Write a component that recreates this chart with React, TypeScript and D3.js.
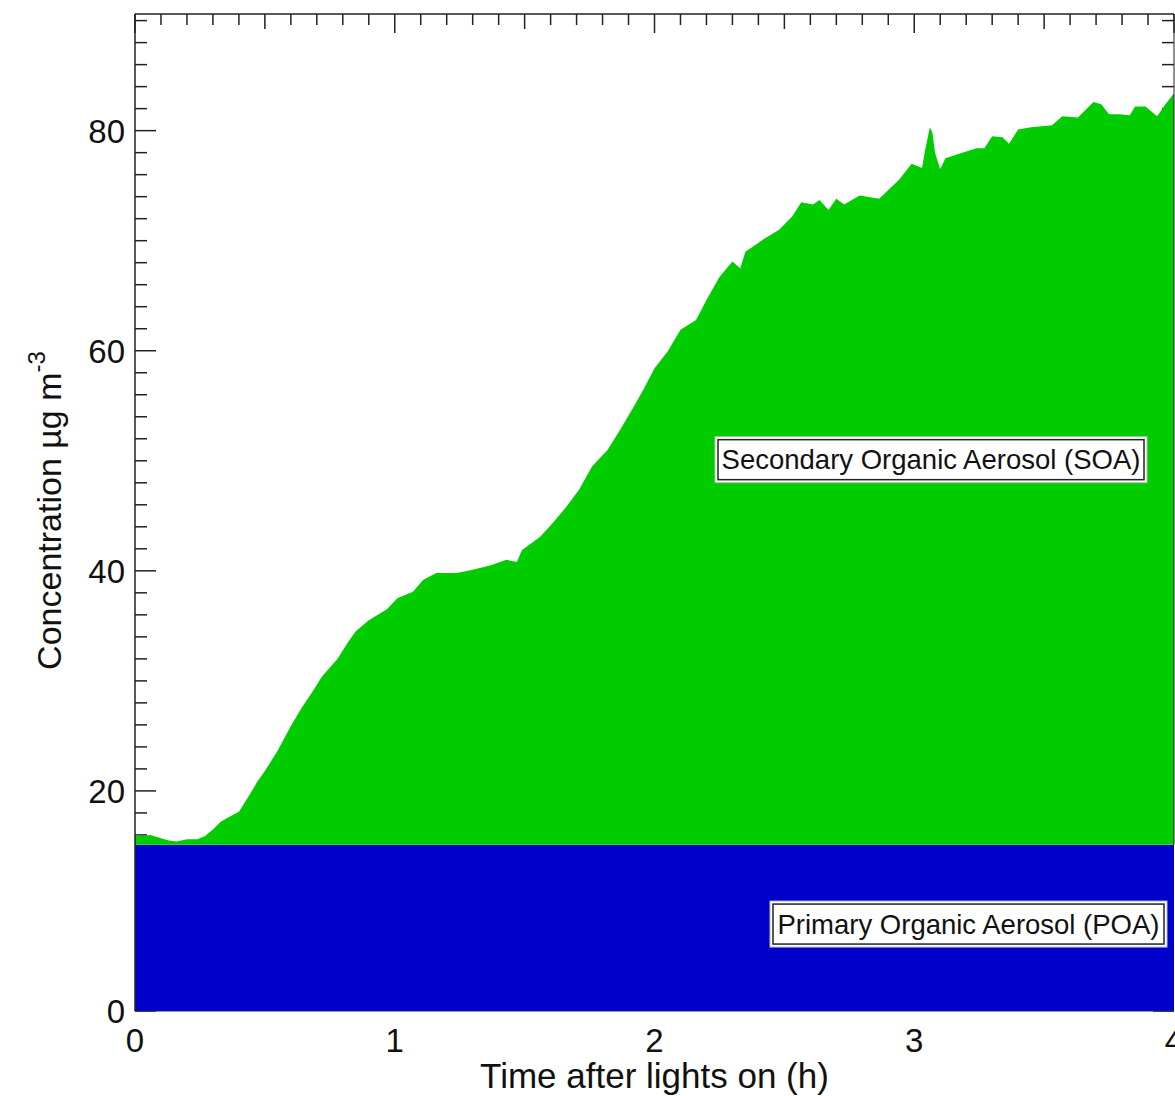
import React from "react";
import * as d3 from "d3";

// time after lights on (h) and total organic aerosol (POA + SOA), ug m-3
const timeHours = [
  0.0, 0.03, 0.06, 0.1, 0.13, 0.16, 0.2, 0.24, 0.27, 0.3, 0.33, 0.36, 0.4, 0.44, 0.47, 0.5,
  0.55, 0.6, 0.64, 0.68, 0.72, 0.78, 0.82, 0.85, 0.9, 0.97, 1.01, 1.07, 1.11, 1.16, 1.24,
  1.3, 1.37, 1.43, 1.47, 1.49, 1.56, 1.61, 1.66, 1.71, 1.76, 1.82, 1.87, 1.92, 1.96, 2.0,
  2.05, 2.1, 2.16, 2.2, 2.25, 2.3, 2.33, 2.35, 2.43, 2.48, 2.53, 2.565, 2.61, 2.635, 2.67,
  2.7, 2.73, 2.79, 2.865, 2.9, 2.94, 2.99, 3.03, 3.04, 3.06, 3.07, 3.08, 3.1, 3.12, 3.185,
  3.24, 3.27, 3.3, 3.34, 3.365, 3.4, 3.45, 3.53, 3.57, 3.63, 3.69, 3.72, 3.75, 3.79, 3.83,
  3.85, 3.89, 3.935, 3.97, 4.0,
];
const totalOA = [
  16.0, 15.9, 16.0, 15.7, 15.5, 15.4, 15.6, 15.6, 15.9, 16.5, 17.2, 17.6, 18.1, 19.6, 20.8, 21.8,
  23.7, 25.9, 27.5, 28.9, 30.4, 32.0, 33.5, 34.5, 35.5, 36.5, 37.5, 38.1, 39.2, 39.8, 39.8,
  40.1, 40.5, 41.0, 40.8, 41.9, 43.1, 44.4, 45.8, 47.4, 49.5, 51.0, 52.9, 54.9, 56.6, 58.4,
  59.9, 61.9, 62.8, 64.6, 66.7, 68.1, 67.5, 69.0, 70.3, 71.0, 72.2, 73.5, 73.3, 73.7, 72.8,
  73.8, 73.3, 74.1, 73.8, 74.6, 75.5, 77.0, 76.6, 78.0, 80.3, 79.8, 78.0, 76.5, 77.5, 78.0,
  78.4, 78.4, 79.5, 79.4, 78.8, 80.1, 80.3, 80.5, 81.3, 81.2, 82.6, 82.4, 81.5, 81.5, 81.4,
  82.2, 82.2, 81.3, 82.5, 83.4,
];
const poaLevel = 15.1;

const xTickLabels = [0, 1, 2, 3, 4];
const yTickLabels = [0, 20, 40, 60, 80];
const soaLabel = "Secondary Organic Aerosol (SOA)";
const poaLabel = "Primary Organic Aerosol (POA)";

const W = 1175;
const H = 1096;
const margin = { top: 14, right: 1, bottom: 85, left: 135 };
const font = "'Liberation Sans', Arial, sans-serif";

export default function App() {
  const x = d3.scaleLinear().domain([0, 4]).range([margin.left, W - margin.right]);
  const y = d3.scaleLinear().domain([0, 90.6]).range([H - margin.bottom, margin.top]);
  const x0 = x(0), x1 = x(4), yb = y(0), yt = margin.top;

  const data = timeHours.map((t, i) => ({ t, v: totalOA[i] }));
  const soaArea = d3
    .area<{ t: number; v: number }>()
    .x((d) => x(d.t))
    .y0(y(poaLevel))
    .y1((d) => y(d.v));

  const xMinor = d3.range(0, 41).map((i) => i / 10);
  const yMinor = d3.range(0, 46).map((i) => i * 2);

  const LabelBox = ({ text, left, right, cy }: { text: string; left: number; right: number; cy: number }) => {
    const w = right - left;
    const h = 46;
    return (
      <g>
        <rect x={left} y={cy - h / 2} width={w} height={h} fill="#fff" stroke="#bbb" strokeWidth={1} />
        <rect x={left + 3} y={cy - h / 2 + 3} width={w - 6} height={h - 6} fill="none" stroke="#222" strokeWidth={1.5} />
        <text x={(left + right) / 2} y={cy + 9.5} textAnchor="middle" fontSize={27.5} fontFamily={font} fill="#111">
          {text}
        </text>
      </g>
    );
  };

  return (
    <svg width={W} height={H} style={{ position: "absolute", left: 0, top: 0, background: "#fff" }}>
      {/* ticks, drawn under the fills */}
      <g stroke="#222" strokeWidth={1.5}>
        {xMinor.map((t, i) => {
          const len = i % 10 === 0 ? 19 : i % 5 === 0 ? 15 : 11;
          return <line key={"xt" + i} x1={x(t)} x2={x(t)} y1={yt} y2={yt + len} />;
        })}
        {yMinor.map((v, i) => {
          const len = v % 20 === 0 ? 21 : 12;
          return (
            <g key={"yt" + i}>
              <line x1={x0} x2={x0 + len} y1={y(v)} y2={y(v)} />
              <line x1={x1} x2={x1 - len} y1={y(v)} y2={y(v)} />
            </g>
          );
        })}
      </g>

      <rect x={x0} y={y(poaLevel)} width={x1 - x0} height={yb - y(poaLevel)} fill="#0000cc" />
      <path d={soaArea(data) || ""} fill="#00cc00" />

      {/* frame */}
      <line x1={x0} x2={x0} y1={yt} y2={yb} stroke="#222" strokeWidth={1.5} />
      <line x1={x0} x2={x1} y1={yt} y2={yt} stroke="#222" strokeWidth={1.5} />
      <line x1={x1} x2={x1} y1={yt} y2={y(poaLevel)} stroke="#222" strokeWidth={1} />
      <line x1={x0} x2={x1} y1={yb} y2={yb} stroke="#1a1a80" strokeWidth={1} />

      <LabelBox text={soaLabel} left={715} right={1147} cy={y(50.1)} />
      <LabelBox text={poaLabel} left={770} right={1167} cy={y(7.9)} />

      {/* tick labels */}
      <g fontFamily={font} fontSize={33} fill="#111">
        {yTickLabels.map((v) => (
          <text key={"yl" + v} x={x0 - 10} y={y(v) + 12} textAnchor="end">
            {v}
          </text>
        ))}
        {xTickLabels.map((t) => (
          <text key={"xl" + t} x={x(t)} y={yb + 41} textAnchor="middle">
            {t}
          </text>
        ))}
      </g>

      <text x={(x0 + x1) / 2} y={1088} textAnchor="middle" fontFamily={font} fontSize={35} fill="#111">
        Time after lights on (h)
      </text>
      <text
        transform={`translate(61, ${(yt + yb) / 2 - 2}) rotate(-90)`}
        textAnchor="middle"
        fontFamily={font}
        fontSize={34}
        fill="#111"
      >
        Concentration µg m
        <tspan fontSize={24} dy={-16}>
          -3
        </tspan>
      </text>
    </svg>
  );
}
